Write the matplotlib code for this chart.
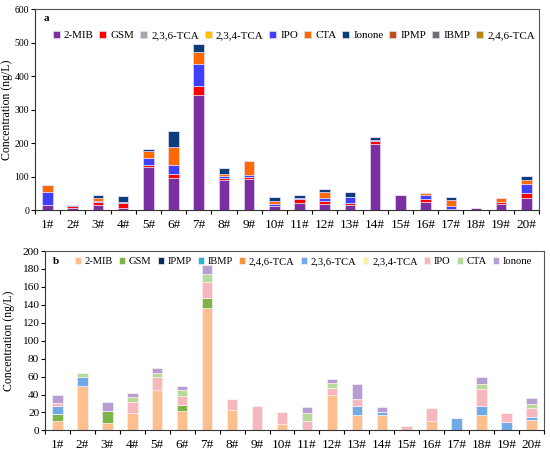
import matplotlib
matplotlib.use("Agg")
import matplotlib.pyplot as plt
import numpy as np

plt.rcParams['font.family'] = ['Liberation Serif', 'DejaVu Serif']

sites = [f"{i}#" for i in range(1, 21)]

# Panel a (ng/L)
a_names = ["2-MIB", "GSM", "2,3,6-TCA", "2,3,4-TCA", "IPO", "CTA", "Ionone", "IPMP", "IBMP", "2,4,6-TCA"]
a_colors = ["#7B2FA2", "#FF0000", "#A6A6A6", "#FFC000", "#3F3FFF", "#FF6A00", "#0B3D78", "#C0501A", "#707070", "#B8860B"]
a_2mib   = [16, 6, 16, 7, 128, 97, 344, 90, 93, 12, 21, 19, 17, 197, 45, 25, 5, 7, 19, 37]
a_gsm    = [0, 6, 8, 14, 8, 11, 27, 5, 6, 1, 11, 7, 6, 10, 0, 7, 0, 0, 6, 14]
a_236tca = [0] * 20
a_234tca = [0] * 20
a_ipo    = [39, 1, 3, 3, 21, 27, 66, 8, 7, 5, 4, 10, 15, 2, 0, 14, 8, 0, 0, 27]
a_cta    = [19, 0, 10, 0, 19, 54, 34, 5, 41, 8, 0, 17, 0, 0, 0, 6, 16, 0, 11, 12]
a_ionone = [0, 4, 7, 19, 7, 48, 26, 17, 0, 12, 8, 9, 15, 9, 0, 0, 9, 0, 0, 12]
a_ipmp   = [0] * 20
a_ibmp   = [0] * 20
a_246tca = [0] * 20
a_data = [a_2mib, a_gsm, a_236tca, a_234tca, a_ipo, a_cta, a_ionone, a_ipmp, a_ibmp, a_246tca]

# Panel b (ng/L)
b_names = ["2-MIB", "GSM", "IPMP", "IBMP", "2,4,6-TCA", "2,3,6-TCA", "2,3,4-TCA", "IPO", "CTA", "Ionone"]
b_colors = ["#FDBF8E", "#7DB446", "#0B2A5C", "#1FB4D8", "#F7923A", "#6FAAE6", "#FFF0A0", "#F6B8BC", "#B6DA98", "#B79ED2"]
b_2mib   = [10, 49, 8, 19, 45, 22, 137, 23, 0, 7, 0, 39, 17.5, 17.5, 0, 11, 0, 17, 0, 11.5]
b_gsm    = [8, 0, 14, 0, 0, 6, 11, 0, 0, 0, 0, 0, 0, 0, 0, 0, 0, 0, 0, 0]
b_ipmp   = [0] * 20
b_ibmp   = [0] * 20
b_246tca = [0] * 20
b_236tca = [9, 11, 0, 0, 0, 0, 0, 0, 0, 0, 0, 0, 10, 3.5, 0, 0, 13.4, 10, 9.3, 3.5]
b_234tca = [0] * 20
b_ipo    = [4, 0, 0, 13, 15, 10, 18, 12, 27, 14, 11, 8.6, 7.5, 0, 4.5, 13.5, 0, 19.5, 10.4, 9.5]
b_cta    = [0, 4, 0, 5, 4, 7, 8, 0, 0, 0, 8, 5.4, 0, 0, 0, 0, 0, 5.5, 0, 5]
b_ionone = [8.7, 0, 10, 5, 6, 5, 10, 0, 0, 0, 7, 4.6, 17, 5.5, 0, 0, 0, 8, 0, 6.6]
b_data = [b_2mib, b_gsm, b_ipmp, b_ibmp, b_246tca, b_236tca, b_234tca, b_ipo, b_cta, b_ionone]

fig = plt.figure(figsize=(5.5, 4.54), dpi=100)
ax_a = fig.add_axes([0.0636, 0.537, 0.9164, 0.4425])
ax_b = fig.add_axes([0.0818, 0.052, 0.9072, 0.395])

x = np.arange(len(sites))
width = 0.42

def draw(ax, data, names, colors, edge):
    bottom = np.zeros(len(sites))
    for vals, name, col in zip(data, names, colors):
        v = np.array(vals, dtype=float)
        ax.bar(x, v, width, bottom=bottom, color=col, label=name,
               edgecolor=edge, linewidth=0.5)
        bottom += v

draw(ax_a, a_data, a_names, a_colors, "#E6D8F2")
draw(ax_b, b_data, b_names, b_colors, "#FBEFF2")

for ax, ymax, step, lx, ysz in [(ax_a, 600, 100, -0.044, 7.0), (ax_b, 200, 20, -0.060, 8.2)]:
    ax.set_xlim(-0.5, len(sites) - 0.5)
    ax.set_ylim(0, ymax)
    ax.set_yticks(np.arange(0, ymax + 1, step))
    ax.set_xticks(x)
    ax.set_xticklabels(sites, fontsize=9.5)
    ax.set_xticks(np.arange(-0.5, len(sites), 1), minor=True)
    ax.tick_params(axis='x', which='major', length=0, pad=6)
    ax.tick_params(axis='x', which='minor', length=3, direction='out', width=0.8)
    ax.tick_params(axis='y', length=3, direction='out', labelsize=ysz, width=0.8, pad=1.2)
    ax.set_ylabel("Concentration (ng/L)", fontsize=8.6)
    ax.yaxis.set_label_coords(lx, 0.5)
    for s in ax.spines.values():
        s.set_linewidth(0.8)
        s.set_color("#555555")
    ax.spines['left'].set_color("#333333")
    ax.spines['bottom'].set_color("#333333")

ax_a.text(0.018, 0.955, "a", transform=ax_a.transAxes, fontsize=8, fontweight='bold', va='center')
ax_b.text(0.015, 0.94, "b", transform=ax_b.transAxes, fontsize=8, fontweight='bold', va='center')

ax_a.legend(loc='upper left', bbox_to_anchor=(0.022, 0.925), ncol=10, frameon=False,
            fontsize=7.9, handlelength=0.64, handleheight=0.64, handletextpad=0.36,
            columnspacing=0.54, borderaxespad=0.2)
ax_b.legend(loc='upper left', bbox_to_anchor=(0.048, 1.0), ncol=10, frameon=False,
            fontsize=7.6, handlelength=0.55, handleheight=0.55, handletextpad=0.36,
            columnspacing=0.6, borderaxespad=0.2)

fig.savefig("out.png", dpi=100)
